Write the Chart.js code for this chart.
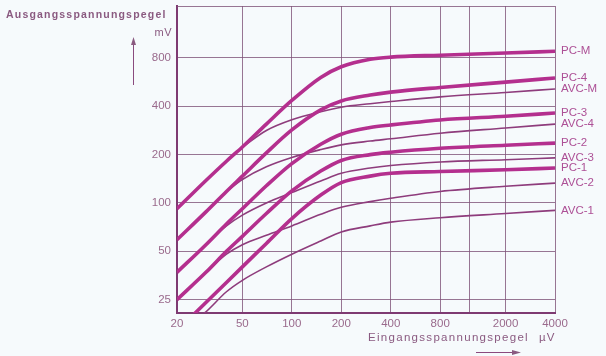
<!DOCTYPE html>
<html>
<head>
<meta charset="utf-8">
<script src="https://cdn.jsdelivr.net/npm/chart.js@4/dist/chart.umd.min.js"></script>
<style>
  html, body { margin: 0; padding: 0; background: #f6fafc; }
  canvas { display: block; }
</style>
</head>
<body>
<canvas id="agcChart" width="606" height="356"></canvas>
<script>
// input level (µV) grid shared by all curves
const inputLevels = [20, 30, 40, 50, 70, 100, 150, 200, 300, 400, 800, 2000, 4000];

// output level (mV), null = curve not drawn there
const pcM  = [92, 138, 182, 223, 310, 435, 605, 705, 785, 810, 832, 858, 880];
const pc4  = [59, 88, 118, 147, 205, 285, 380, 432, 470, 490, 524, 566, 600];
const pc3  = [37, 55, 74, 92, 128, 176, 232, 268, 295, 306, 329, 347, 363];
const pc2  = [25, 37, 50, 62, 86, 119, 158, 184, 200, 207, 219, 229, 236];
const pc1  = [16, 24, 32, 40, 56, 80, 112, 134, 147, 153, 157, 161, 165];
const avcM = [null, null, null, 223, 283, 330, 370, 395, 415, 428, 458, 488, 513];
const avc4 = [null, null, 118, 140, 168, 192, 215, 230, 243, 251, 272, 293, 310];
const avc3 = [null, 55, 72, 84, 100, 116, 137, 153, 165, 171, 180, 186, 191];
const avc2 = [null, 37, 48, 55, 63, 72, 85, 94, 102, 107, 118, 127, 133];
const avc1 = [15, 21, 28, 33, 40, 48, 58, 66, 72, 76, 81, 86, 90];

const xTickValues = [20, 50, 100, 200, 400, 800, 1200, 2000, 4000];
const xTickLabels = ['20', '50', '100', '200', '400', '800', '', '2000', '4000'];
const yTickValues = [25, 50, 100, 200, 400, 800];
const yTickLabels = ['25', '50', '100', '200', '400', '800'];

const THICK = '#b42f8e';
const THIN = '#8e3c7c';
const GRID = 'rgba(128, 84, 120, 0.8)';
const TEXT = '#9a6a8c';
const FONT = '"Liberation Sans", Arial, sans-serif';

function series(label, values, thick) {
    const points = [];
    values.forEach((v, i) => {
        if (v !== null) points.push({ x: inputLevels[i], y: v });
    });
    return {
        label: label,
        data: points,
        borderColor: thick ? THICK : THIN,
        borderWidth: thick ? 3.6 : 1.6,
        pointRadius: 0,
        fill: false,
        cubicInterpolationMode: 'monotone'
    };
}

const background = {
    id: 'background',
    beforeDraw(chart) {
        const ctx = chart.ctx;
        ctx.save();
        ctx.fillStyle = '#f6fafc';
        ctx.fillRect(0, 0, chart.width, chart.height);
        ctx.restore();
    },
    beforeDatasetsDraw(chart) {
        // top edge of the plot frame
        const { ctx, chartArea } = chart;
        ctx.save();
        ctx.strokeStyle = GRID;
        ctx.lineWidth = 1;
        ctx.beginPath();
        ctx.moveTo(chartArea.left, chartArea.top + 0.5);
        ctx.lineTo(chartArea.right, chartArea.top + 0.5);
        ctx.stroke();
        ctx.restore();
    }
};

const endLabels = {
    id: 'endLabels',
    afterDatasetsDraw(chart) {
        const ctx = chart.ctx;
        ctx.save();
        ctx.font = '11.5px ' + FONT;
        ctx.fillStyle = '#ad5096';
        ctx.textBaseline = 'middle';
        ctx.textAlign = 'left';
        chart.data.datasets.forEach((ds, i) => {
            const meta = chart.getDatasetMeta(i);
            const last = meta.data[meta.data.length - 1];
            ctx.fillText(ds.label, chart.chartArea.right + 6, last.y);
        });
        ctx.restore();
    }
};

const axisTitles = {
    id: 'axisTitles',
    afterDraw(chart) {
        const ctx = chart.ctx;
        ctx.save();
        ctx.fillStyle = '#8a5a80';
        ctx.strokeStyle = '#8a4a7e';
        ctx.textBaseline = 'alphabetic';

        ctx.font = 'bold 10.5px ' + FONT;
        ctx.letterSpacing = '1.2px';
        ctx.textAlign = 'left';
        ctx.fillText('Ausgangsspannungspegel', 6, 18);

        ctx.font = '11px ' + FONT;
        ctx.letterSpacing = '0.5px';
        ctx.textAlign = 'right';
        ctx.fillText('mV', 172, 36);

        ctx.font = '11.5px ' + FONT;
        ctx.letterSpacing = '1.3px';
        ctx.textAlign = 'left';
        ctx.fillText('Eingangsspannungspegel', 368, 341);
        ctx.letterSpacing = '1px';
        ctx.fillText('µV', 539, 341);

        // up arrow next to the y axis
        ctx.lineWidth = 1;
        ctx.beginPath();
        ctx.moveTo(133.5, 85);
        ctx.lineTo(133.5, 42);
        ctx.stroke();
        ctx.beginPath();
        ctx.moveTo(133.5, 37);
        ctx.lineTo(131, 45);
        ctx.lineTo(136, 45);
        ctx.closePath();
        ctx.fill();

        // right arrow under the x title
        ctx.beginPath();
        ctx.moveTo(476, 352.5);
        ctx.lineTo(514, 352.5);
        ctx.stroke();
        ctx.beginPath();
        ctx.moveTo(521, 352.5);
        ctx.lineTo(512, 350);
        ctx.lineTo(512, 355);
        ctx.closePath();
        ctx.fill();
        ctx.restore();
    }
};

const ctx = document.getElementById('agcChart').getContext('2d');
new Chart(ctx, {
    type: 'line',
    data: {
        datasets: [
            series('PC-M', pcM, true),
            series('PC-4', pc4, true),
            series('AVC-M', avcM, false),
            series('PC-3', pc3, true),
            series('AVC-4', avc4, false),
            series('PC-2', pc2, true),
            series('AVC-3', avc3, false),
            series('PC-1', pc1, true),
            series('AVC-2', avc2, false),
            series('AVC-1', avc1, false)
        ]
    },
    options: {
        responsive: false,
        animation: false,
        layout: { padding: { left: 0, right: 51, top: 6, bottom: 0 } },
        plugins: {
            legend: { display: false },
            tooltip: { enabled: false }
        },
        scales: {
            x: {
                type: 'logarithmic',
                min: 20,
                max: 4000,
                afterBuildTicks: s => { s.ticks = xTickValues.map(v => ({ value: v })); },
                afterFit: s => {
                    s.height = 43;
                    s.paddingLeft = 0;
                    s.paddingRight = 0;
                },
                grid: { color: GRID, lineWidth: 1, drawTicks: false },
                border: { color: '#7e3a72', width: 2 },
                ticks: {
                    autoSkip: false,
                    maxRotation: 0,
                    padding: 4,
                    color: TEXT,
                    font: { size: 11.5, family: FONT },
                    callback: (value, index) => xTickLabels[index]
                }
            },
            y: {
                type: 'logarithmic',
                min: 20.65,
                max: 1685,
                afterBuildTicks: s => { s.ticks = yTickValues.map(v => ({ value: v })); },
                afterFit: s => {
                    s.width = 177;
                    s.paddingTop = 0;
                    s.paddingBottom = 0;
                },
                grid: { color: GRID, lineWidth: 1, drawTicks: false },
                border: { color: '#7e3a72', width: 2 },
                ticks: {
                    autoSkip: false,
                    padding: 6,
                    color: TEXT,
                    font: { size: 11.5, family: FONT },
                    callback: (value, index) => yTickLabels[index]
                }
            }
        }
    },
    plugins: [background, endLabels, axisTitles]
});
</script>
</body>
</html>
